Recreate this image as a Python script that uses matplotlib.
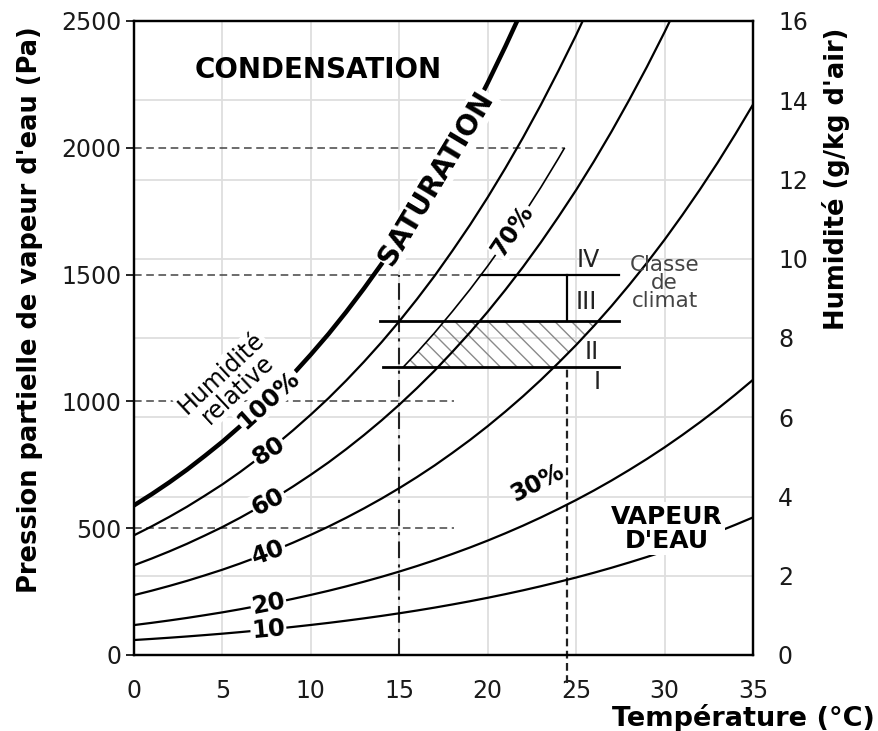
import numpy as np
import matplotlib.pyplot as plt
from matplotlib.patches import Polygon, Rectangle

temps = np.arange(0, 36)
p_sat = np.array([590, 634, 681, 731, 785, 841, 902, 967, 1035, 1108,
                  1185, 1266, 1353, 1445, 1542, 1645, 1754, 1869, 1992, 2120,
                  2256, 2400, 2551, 2711, 2880, 3056, 3243, 3440, 3648, 3865,
                  4094, 4336, 4589, 4854, 5134, 5426])

rh_levels = [100, 80, 60, 40, 20, 10]
rh_texts = ['100%', '80', '60', '40', '20', '10']
rh_angles = [42, 33, 28, 20, 11, 5]
label_t = 7.6

rh_70 = 68      # ligne "70%" telle que dessinee
rh_40 = 40      # limite droite de la zone hachuree

ref_p = [500, 1000, 1500, 2000]
ref_end = [18.1, 18.1]          # fin des tirets 500 et 1000

p_I, p_II, p_IV = 1134, 1319, 1500
box_left = [14.1, 13.9]
box_right = 27.4
t_box = 24.5
t_dash = 15

hum_ticks = list(range(0, 17, 2))

plt.rcParams['font.family'] = 'DejaVu Sans'
fig = plt.figure(figsize=(8.79, 7.31), dpi=100)
ax = fig.add_axes([134/879, 1-655/731, (753-134)/879, (655-21)/731])
ax.set_xlim(0, 35)
ax.set_ylim(0, 2500)

# grille
for t in range(5, 35, 5):
    ax.axvline(t, color='#dedede', lw=1.3, zorder=0)
for g in hum_ticks[1:-1]:
    ax.axhline(g*2500/16, color='#dedede', lw=1.3, zorder=0)

# courbes d'humidite relative
for rh, txt, ang in zip(rh_levels, rh_texts, rh_angles):
    p = p_sat*rh/100
    lw = 3.2 if rh == 100 else 1.6
    ax.plot(temps, p, color='black', lw=lw, zorder=3)
    ax.text(label_t, np.interp(label_t, temps, p), txt, rotation=ang,
            ha='center', va='center', fontsize=17.5, fontweight='bold', zorder=5,
            bbox=dict(boxstyle='square,pad=0.05', fc='white', ec='none'))

# ligne 70 %
p70 = p_sat*rh_70/100
line70, = ax.plot(temps, p70, color='black', lw=1.2, zorder=3)
line70.set_clip_path(Rectangle((0, p_I), 35, 2000-p_I, transform=ax.transData))

# zone hachuree
ps = np.linspace(p_I, p_II, 12)
left = np.interp(ps, p70, temps)
right = np.interp(ps, p_sat*rh_40/100, temps)
verts = np.column_stack([np.r_[left, right[::-1]], np.r_[ps, ps[::-1]]])
ax.add_patch(Polygon(verts, closed=True, fill=False, hatch='\\\\',
                     edgecolor='#8a8a8a', lw=0, zorder=1.5))

# classes de climat
t_iv = np.interp(p_IV, p70, temps)
ax.plot([box_left[0], box_right], [p_I, p_I], color='black', lw=2, zorder=3)
ax.plot([box_left[1], box_right], [p_II, p_II], color='black', lw=2, zorder=3)
ax.plot([t_iv, box_right], [p_IV, p_IV], color='black', lw=1.6, zorder=3)
ax.plot([t_box, t_box], [p_II, p_IV], color='black', lw=1.6, zorder=3)

# lignes de repere
ends = ref_end + [t_iv, np.interp(2000, p70, temps)]
for p, e in zip(ref_p, ends):
    ax.plot([0, e], [p, p], color='#444444', lw=1.1, ls=(0, (5, 3)), zorder=2)
ax.plot([t_dash, t_dash], [0, p_IV], color='#222222', lw=1.5,
        ls=(0, (8, 3, 1.5, 3)), zorder=2)
ax.plot([t_box, t_box], [-110, p_I], color='#222222', lw=1.6,
        ls=(0, (3.5, 2)), zorder=2, clip_on=False)

# textes
box = dict(boxstyle='square,pad=0.05', fc='white', ec='none')
ax.text(10.4, 2307, 'CONDENSATION', ha='center', va='center', fontsize=20,
        fontweight='bold', zorder=5)
ax.text(17.1, 1880, 'SATURATION', rotation=59, ha='center', va='center',
        fontsize=20, fontweight='bold', zorder=5, bbox=box)
ax.text(21.4, np.interp(21.4, temps, p70), '70%', rotation=56, ha='center',
        va='center', fontsize=17, fontweight='bold', zorder=5, bbox=box)
ax.text(5.4, 1080, 'Humidité\nrelative', rotation=43, ha='center', va='center',
        multialignment='center', fontsize=17, linespacing=0.95, zorder=5,
        bbox=box)
ax.text(22.8, 678, '30%', rotation=27, ha='center', va='center', fontsize=17,
        fontweight='bold', zorder=5)
ax.text(30.1, 497, "VAPEUR\nD'EAU", ha='center', va='center',
        multialignment='center', fontsize=18, fontweight='bold',
        linespacing=1.0, zorder=5,
        bbox=dict(boxstyle='square,pad=0.1', fc='white', ec='none'))

for txt, t, p in [('IV', 25.7, 1558), ('III', 25.6, 1392),
                  ('II', 25.9, 1195), ('I', 26.2, 1076)]:
    ax.text(t, p, txt, ha='center', va='center', fontsize=17, color='#222222',
            zorder=5)
ax.text(30.0, 1467, 'Classe\nde\nclimat', ha='center', va='center',
        multialignment='center', fontsize=15.5, color='#444444',
        linespacing=0.9, zorder=5)

# axes
ax.set_xticks(range(0, 36, 5))
ax.set_yticks(range(0, 2501, 500))
ax.tick_params(axis='x', length=0, pad=17, labelsize=17, labelcolor='#1a1a1a')
ax.tick_params(axis='y', direction='out', length=6, width=1.2, pad=3,
               labelsize=17, labelcolor='#1a1a1a')

ax2 = ax.twinx()
ax2.set_ylim(0, 16)
ax2.set_yticks(hum_ticks)
ax2.tick_params(axis='y', length=0, pad=18, labelsize=17, labelcolor='#1a1a1a')
for a in (ax, ax2):
    for s in a.spines.values():
        s.set_linewidth(1.6)

fig.text(30/879, 1-310/731, "Pression partielle de vapeur d'eau (Pa)",
         rotation=90, ha='center', va='center', fontsize=18.5,
         fontweight='bold')
fig.text(836/879, 1-179/731, "Humidité (g/kg d'air)", rotation=90,
         ha='center', va='center', fontsize=18.5, fontweight='bold')
fig.text(612/879, 1-718/731, 'Température (°C)', ha='left', va='center',
         fontsize=19.5, fontweight='bold')

fig.savefig('out.png', dpi=100)
